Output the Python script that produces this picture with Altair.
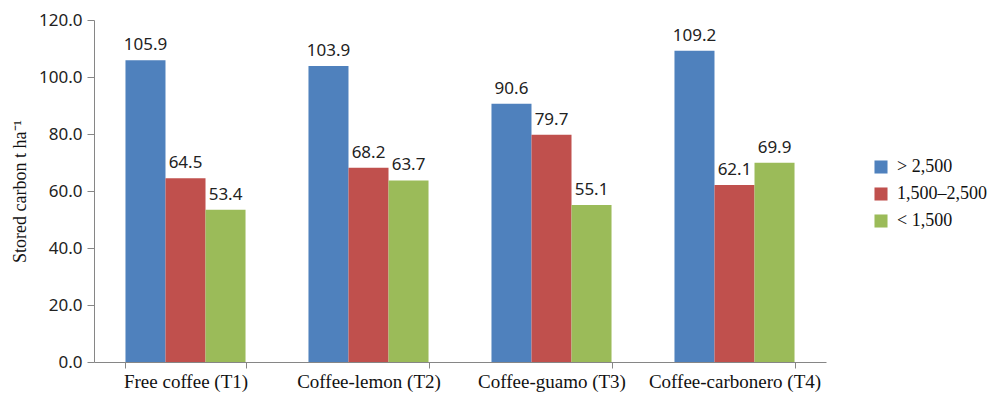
import altair as alt
import pandas as pd

treatments = ["Free coffee (T1)", "Coffee-lemon (T2)", "Coffee-guamo (T3)", "Coffee-carbonero (T4)"]
groups = ["> 2,500", "1,500–2,500", "< 1,500"]
v_high = [105.9, 103.9, 90.6, 109.2]
v_mid = [64.5, 68.2, 79.7, 62.1]
v_low = [53.4, 63.7, 55.1, 69.9]
colors = ["#4F81BD", "#C0504D", "#9BBB59"]

rows = []
for i, t in enumerate(treatments):
    for g, vals in zip(groups, [v_high, v_mid, v_low]):
        rows.append({"treatment": t, "group": g, "value": vals[i]})
df = pd.DataFrame(rows)

x = alt.X("treatment:N", sort=treatments, title=None,
          scale=alt.Scale(paddingInner=0.344, paddingOuter=0.172),
          axis=alt.Axis(labelAngle=0, labelFont="Liberation Serif", labelFontSize=19,
                        labelColor="#111", tickBand="extent", tickSize=6, tickColor="#868686",
                        domainColor="#868686", labelPadding=4))
xo = alt.XOffset("group:N", sort=groups)

base = alt.Chart(df)
bars = base.mark_bar().encode(
    x=x, xOffset=xo,
    y=alt.Y("value:Q", title="Stored carbon t ha⁻¹",
            scale=alt.Scale(domain=[0, 120], nice=False),
            axis=alt.Axis(values=[0, 20, 40, 60, 80, 100, 120], format=".1f", grid=False,
                          labelFont="Noto Sans", labelFontSize=17, labelColor="#222",
                          tickSize=7, tickColor="#868686", domainColor="#868686",
                          labelPadding=5, titleFont="Liberation Serif", titleFontSize=18,
                          titleFontWeight="normal", titleColor="#111", titlePadding=9)),
    color=alt.Color("group:N", sort=groups,
                    scale=alt.Scale(domain=groups, range=colors),
                    legend=alt.Legend(title=None, orient="none", legendX=778, legendY=138,
                                      symbolType="square", symbolSize=170,
                                      symbolStrokeWidth=0, labelFont="Liberation Serif",
                                      labelFontSize=18, labelColor="#111", rowPadding=9,
                                      labelOffset=7)),
)
labels = base.mark_text(baseline="bottom", dy=-6, font="Noto Sans", fontSize=17,
                        color="#222").encode(
    x=x, xOffset=xo, y="value:Q", text=alt.Text("value:Q", format=".1f"))

chart = alt.layer(bars, labels).properties(
    width=732, height=342,
    autosize=alt.AutoSizeParams(type="none"),
    padding={"left": 94, "top": 20, "right": 166, "bottom": 34},
).configure(background="white", view=alt.ViewConfig(strokeWidth=0, stroke="transparent"))

chart.save("out.html", embed_options={"renderer": "svg", "actions": False})
